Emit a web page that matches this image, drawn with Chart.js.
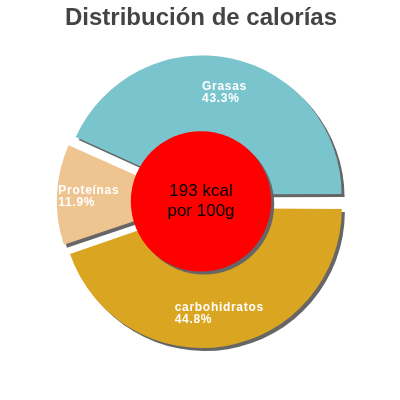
<!DOCTYPE html>
<html lang="es">
<head>
<meta charset="utf-8">
<title>Distribución de calorías</title>
<style>
html, body { margin: 0; padding: 0; background: #fff; }
.holder { width: 400px; height: 400px; }
</style>
</head>
<body>
<div class="holder"><canvas id="canvas" width="400" height="400"></canvas></div>
<script src="https://cdn.jsdelivr.net/npm/chart.js"></script>
<script>
// data (drawn clockwise from 3 o'clock)
const categories = ['carbohidratos', 'Proteínas', 'Grasas'];
const percents = [44.8, 11.9, 43.3];
const sliceColors = ['#DAA520', '#EEC591', '#7AC5CD'];
const centerLines = ['193 kcal', 'por 100g'];

const FONT = "'Liberation Sans', Arial, sans-serif";
const EXPLODE = 28; // chart.js moves each arc by offset/4

// gray drop shadow under the slices and the red disc, labels on top
const decor = {
  id: 'decor',
  beforeDatasetsDraw(chart) {
    const ctx = chart.ctx;
    ctx.save();
    ctx.shadowColor = '#666';
    ctx.shadowOffsetX = 3;
    ctx.shadowOffsetY = 3;
    ctx.shadowBlur = 0;
  },
  afterDatasetsDraw(chart) {
    const ctx = chart.ctx;
    const arcs = chart.getDatasetMeta(0).data;
    const cx = arcs[0].x, cy = arcs[0].y;
    const outer = arcs[0].outerRadius;

    // red disc in the middle, still with the shadow
    ctx.beginPath();
    ctx.arc(cx, cy, outer * 0.52, 0, Math.PI * 2);
    ctx.fillStyle = '#FF0000';
    ctx.fill();
    ctx.restore();

    ctx.save();
    ctx.fillStyle = '#000';
    ctx.font = '17px ' + FONT;
    ctx.textAlign = 'center';
    ctx.textBaseline = 'middle';
    ctx.fillText(centerLines[0], cx, cy - 10);
    ctx.fillText(centerLines[1], cx, cy + 10);

    // slice labels: left aligned block centred on the slice
    ctx.fillStyle = '#fff';
    ctx.font = 'bold 12px ' + FONT;
    ctx.letterSpacing = '0.7px';
    ctx.textAlign = 'left';
    arcs.forEach((a, i) => {
      const mid = (a.startAngle + a.endAngle) / 2;
      const r = outer * 0.78 + EXPLODE / 4;
      const x = cx + Math.cos(mid) * r;
      const y = cy + Math.sin(mid) * r + 1;
      const lines = [categories[i], percents[i].toFixed(1) + '%'];
      const w = Math.max(...lines.map(t => ctx.measureText(t).width));
      ctx.fillText(lines[0], x - w / 2, y - 6);
      ctx.fillText(lines[1], x - w / 2, y + 6);
    });
    ctx.restore();
  }
};

const ctx = document.getElementById('canvas').getContext('2d');
let mychart = new Chart(ctx, {
  type: 'doughnut',
  data: {
    labels: categories,
    datasets: [{
      data: percents,
      backgroundColor: sliceColors,
      borderWidth: 0,
      offset: EXPLODE
    }]
  },
  options: {
    responsive: false,
    animation: false,
    rotation: 90,
    cutout: '40%',
    radius: 135,
    layout: { padding: { left: 2, right: 0, top: 0, bottom: 30 } },
    plugins: {
      legend: { display: false },
      tooltip: { enabled: false },
      title: {
        display: true,
        text: 'Distribución de calorías',
        color: '#444',
        font: { family: FONT, size: 24, weight: 'bold' },
        padding: { top: 4, bottom: 0 }
      }
    }
  },
  plugins: [decor]
});
</script>
</body>
</html>
